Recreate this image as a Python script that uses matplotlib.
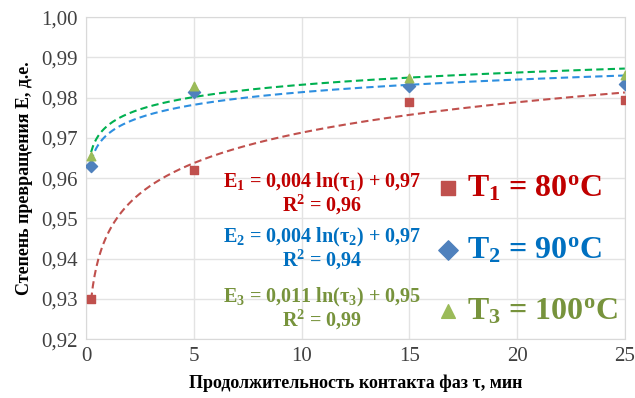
import numpy as np
import matplotlib
matplotlib.use("Agg")
import matplotlib.pyplot as plt
from matplotlib.ticker import FuncFormatter

plt.rcParams['font.family'] = ['Liberation Serif', 'DejaVu Serif']
plt.rcParams['mathtext.fontset'] = 'custom'
plt.rcParams['mathtext.rm'] = 'Liberation Serif:bold'
plt.rcParams['mathtext.it'] = 'Liberation Serif:bold'
plt.rcParams['mathtext.bf'] = 'Liberation Serif:bold'

# data
tau = [0.22, 5, 15, 25]
E_80 = [0.930, 0.962, 0.979, 0.9795]
E_90 = [0.963, 0.9815, 0.983, 0.9835]
E_100 = [0.9655, 0.983, 0.9848, 0.9855]

legend_labels = [r'T$_1$ = 80$^{\rm o}$C', r'T$_2$ = 90$^{\rm o}$C', r'T$_3$ = 100$^{\rm o}$C']
eq_labels = [r'E$_1$ = 0,004 ln(τ$_1$) + 0,97' + '\n' + r'R$^2$ = 0,96',
             r'E$_2$ = 0,004 ln(τ$_2$) + 0,97' + '\n' + r'R$^2$ = 0,94',
             r'E$_3$ = 0,011 ln(τ$_3$) + 0,95' + '\n' + r'R$^2$ = 0,99']

marker_colors = ['#C0504D', '#4F81BD', '#9BBB59']
line_colors = ['#C0504D', '#2E8FE0', '#00B050']
text_colors = ['#C00000', '#0070C0', '#77933C']
markers = ['s', 'D', '^']

fig, ax = plt.subplots(figsize=(6.35, 3.98), dpi=100)
fig.subplots_adjust(left=0.136, right=0.984, top=0.957, bottom=0.148)

series = [E_80, E_90, E_100]
handles = []
xs = np.linspace(tau[0], tau[-1], 300)
for i, E in enumerate(series):
    # logarithmic trendline
    k, b = np.polyfit(np.log(tau), E, 1)
    ax.plot(xs, k * np.log(xs) + b, ls=(0, (3.5, 2)), color=line_colors[i], lw=1.5, zorder=2)
    h = ax.scatter(tau, E, marker=markers[i], color=marker_colors[i], s=38, zorder=3)
    handles.append(h)

ax.set_xlim(0, 25)
ax.set_ylim(0.92, 1.00)
ax.set_xticks(range(0, 26, 5))
ax.set_yticks(np.arange(0.92, 1.0001, 0.01))
ax.yaxis.set_major_formatter(FuncFormatter(lambda v, p: f'{v:.2f}'.replace('.', ',')))
ax.tick_params(length=0, labelsize=15, colors='#404040', pad=6)
ax.grid(True, color='#E3E3E3', lw=1)
ax.set_axisbelow(True)
for s in ax.spines.values():
    s.set_color('#D9D9D9')

ax.set_xlabel('Продолжительность контакта фаз τ, мин', fontsize=13, fontweight='bold', labelpad=6)
ax.set_ylabel('Степень превращения E, д.е.', fontsize=13, fontweight='bold', labelpad=6)

eq_pos = [(10.95, 0.9560), (10.95, 0.9424), (10.95, 0.9274)]
for i, t in enumerate(eq_labels):
    ax.text(eq_pos[i][0], eq_pos[i][1], t, ha='center', va='center', fontsize=14.5,
            fontweight='bold', color=text_colors[i], linespacing=0.95)

leg = ax.legend(handles, legend_labels, loc='center left', bbox_to_anchor=(0.6, 0.275),
                frameon=False, prop={'weight': 'bold', 'size': 23},
                labelcolor=text_colors, handlelength=0.6, handletextpad=0.3,
                labelspacing=1.0, markerscale=1.6)

fig.savefig('out.png', dpi=100)
